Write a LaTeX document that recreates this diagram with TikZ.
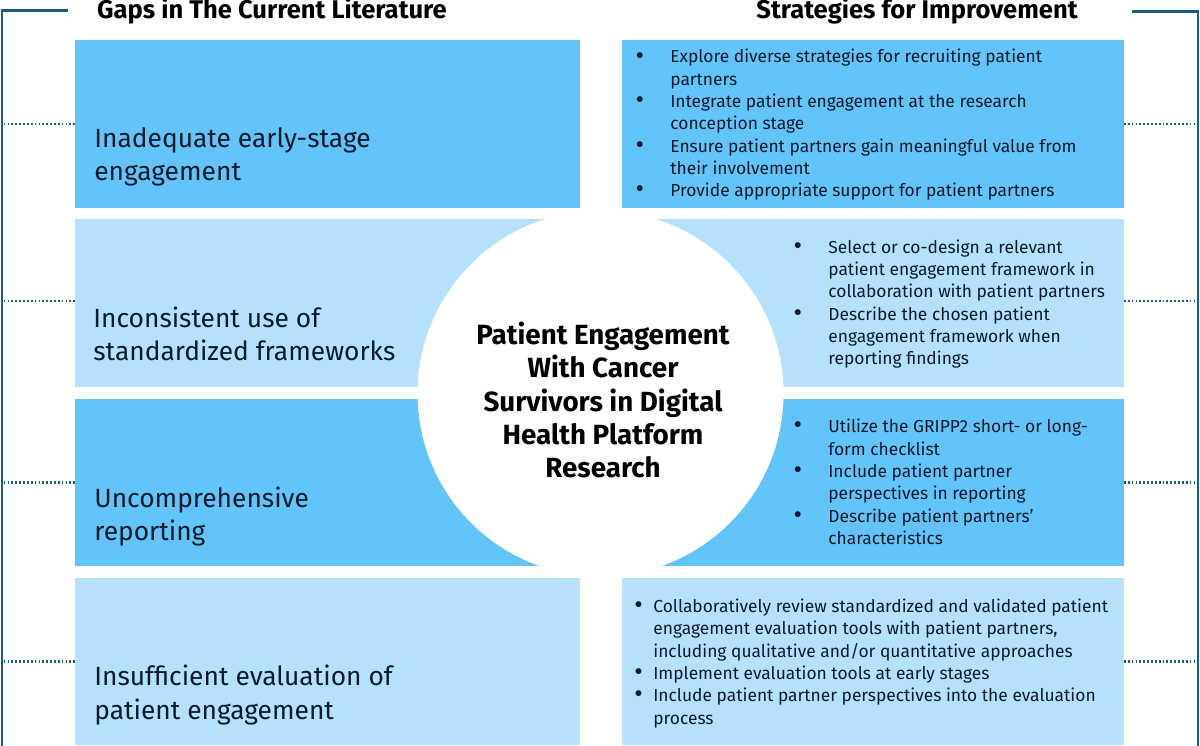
\documentclass[tikz,border=0pt]{standalone}
\usepackage{fontspec}
\setmainfont{Fira Sans}
\usetikzlibrary{calc}
\definecolor{darkbox}{HTML}{62C4F8}
\definecolor{lightbox}{HTML}{B6E1FD}
\definecolor{bracket}{HTML}{1A5F80}
\definecolor{inktext}{HTML}{0B1B2B}
\newcommand{\bigdot}{\raisebox{-0.6pt}{\scalebox{1.5}{\textbullet}}}
\newcommand{\bulwide}{\llap{\bigdot\hspace{15pt}}}
\newcommand{\bulnarrow}{\llap{\bigdot\hspace{6pt}}}
\tikzset{
  gapbox/.style={minimum width=10.1cm, minimum height=3.36cm, inner sep=0, outer sep=0},
  stratbox/.style={minimum width=10.04cm, minimum height=3.36cm, inner sep=0, outer sep=0},
  gaptext/.style={anchor=west, align=left, inner sep=0, text=inktext, font=\fontsize{15}{19}\selectfont},
  strattext/.style={anchor=west, align=left, inner sep=0, text=inktext, font=\fontsize{9.9}{12.7}\selectfont},
  headtext/.style={anchor=center, inner sep=0, font=\fontsize{14.55}{17}\selectfont\bfseries},
  frameline/.style={bracket, line width=1.2pt},
  dotline/.style={bracket, line width=1.2pt, dash pattern=on 1pt off 1.2pt}
}
\begin{document}
\begin{tikzpicture}[x=0.02cm, y=-0.02cm]
\useasboundingbox (0,0) rectangle (1200,746);

\node[gapbox, fill=darkbox] (gapA) at (327.5,124) {};
\node[gapbox, fill=lightbox] (gapB) at (327.5,303) {};
\node[gapbox, fill=darkbox] (gapC) at (327.5,482.5) {};
\node[gapbox, fill=lightbox] (gapD) at (327.5,661.5) {};
\node[stratbox, fill=darkbox] (stratA) at (873,124) {};
\node[stratbox, fill=lightbox] (stratB) at (873,303) {};
\node[stratbox, fill=darkbox] (stratC) at (873,482.5) {};
\node[stratbox, fill=lightbox] (stratD) at (873,661.5) {};

\node[circle, fill=white, minimum size=7.32cm, inner sep=0] (hub) at (600.5,393.5) {};
\node[align=center, inner sep=0, font=\fontsize{15.8}{19.06}\selectfont\bfseries] (title) at (603,400)
  {Patient Engagement\\With Cancer\\Survivors in Digital\\Health Platform\\Research};

\node[headtext] (headL) at (272,11) {Gaps in The Current Literature};
\node[headtext] (headR) at (917,11) {Strategies for Improvement};

\node[gaptext] (labelA) at (94,157) {Inadequate early-stage\\engagement};
\node[gaptext] (labelB) at (93,334) {Inconsistent use of\\standardized frameworks};
\node[gaptext] (labelC) at (94,516.5) {Uncomprehensive\\reporting};
\node[gaptext] (labelD) at (94,695) {Insufficient evaluation of\\patient engagement};

\node[strattext] (listA) at (670,125) {\bulwide Explore diverse strategies for recruiting patient\\partners\\
  \bulwide Integrate patient engagement at the research\\conception stage\\
  \bulwide Ensure patient partners gain meaningful value from\\their involvement\\
  \bulwide Provide appropriate support for patient partners};
\node[strattext] (listB) at (828,304) {\bulwide Select or co-design a relevant\\patient engagement framework in\\collaboration with patient partners\\
  \bulwide Describe the chosen patient\\engagement framework when\\reporting findings};
\node[strattext] (listC) at (828,482) {\bulwide Utilize the GRIPP2 short- or long-\\form checklist\\
  \bulwide Include patient partner\\perspectives in reporting\\
  \bulwide Describe patient partners’\\characteristics};
\node[strattext] (listD) at (653,663.5) {\bulnarrow Collaboratively review standardized and validated patient\\engagement evaluation tools with patient partners,\\including qualitative and/or quantitative approaches\\
  \bulnarrow Implement evaluation tools at early stages\\
  \bulnarrow Include patient partner perspectives into the evaluation\\process};

% outer brackets
\coordinate (LT) at (68,10.5);
\coordinate (LC) at (2,10.5);
\coordinate (LB) at (2,746);
\coordinate (RT) at (1132,11.5);
\coordinate (RC) at (1198,11.5);
\coordinate (RB) at (1198,746);
\draw[frameline] (LT) -- (LC) -- (LB);
\draw[frameline] (RT) -- (RC) -- (RB);

\foreach \row/\off in {A/0,B/-2,C/0,D/0} {
  \draw[dotline] ($(gap\row.west)+(0,\off)$) -- ($(gap\row.west -| LC)+(0,\off)$);
  \draw[dotline] ($(strat\row.east)+(0,\off)$) -- ($(strat\row.east -| RC)+(0,\off)$);
}
\end{tikzpicture}
\end{document}
